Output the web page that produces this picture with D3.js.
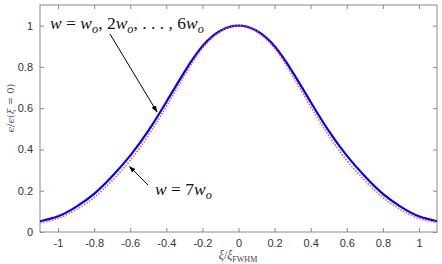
<!DOCTYPE html>
<html><head><meta charset="utf-8">
<script src="https://cdn.jsdelivr.net/npm/d3@7"></script>
<style>
html,body{margin:0;padding:0;background:#fff;}
svg{display:block;}
</style></head>
<body>
<script>
const xs = [-1.1,-1.0,-0.9,-0.8,-0.7,-0.6,-0.5,-0.4,-0.3,-0.2,-0.1,0,0.1,0.2,0.3,0.4,0.5,0.6,0.7,0.8,0.9,1.0,1.1];
const blueVals = [0.052,0.076,0.122,0.185,0.27,0.37,0.49,0.63,0.775,0.90,0.975,1.0,0.975,0.90,0.775,0.63,0.49,0.37,0.27,0.185,0.122,0.076,0.052];
const redVals  = [0.045,0.066,0.108,0.168,0.250,0.347,0.468,0.608,0.757,0.890,0.971,1.0,0.971,0.890,0.757,0.608,0.468,0.347,0.250,0.168,0.108,0.066,0.045];
const xTicks = [-1,-0.8,-0.6,-0.4,-0.2,0,0.2,0.4,0.6,0.8,1];
const xTickLabels = ["-1","-0.8","-0.6","-0.4","-0.2","0","0.2","0.4","0.6","0.8","1"];
const yTicks = [0,0.2,0.4,0.6,0.8,1];
const yTickLabels = ["0","0.2","0.4","0.6","0.8","1"];

const W=442,H=264;
const L=40,R=437,T=5,B=232;
const svg=d3.select("body").append("svg").attr("width",W).attr("height",H);
const x=d3.scaleLinear().domain([-1.1,1.1]).range([L,R]);
const y=d3.scaleLinear().domain([0,1.1]).range([B,T]);
const axCol="#8a8a8a", txtCol="#333";

function styleAxis(g,labels){
  g.select(".domain").remove();
  g.selectAll(".tick line").attr("stroke",axCol);
  g.selectAll(".tick text").attr("fill",txtCol).style("font-family","'Liberation Sans',Arial,sans-serif").style("font-size","11px");
  if(!labels) g.selectAll(".tick text").remove();
}
const fx=(d)=>xTickLabels[xTicks.indexOf(d)];
const fy=(d)=>yTickLabels[yTicks.indexOf(d)];
svg.append("g").attr("transform",`translate(0,${B})`).call(d3.axisBottom(x).tickValues(xTicks).tickFormat(fx).tickSizeInner(-4).tickSizeOuter(0).tickPadding(7)).call(g=>styleAxis(g,true));
svg.append("g").attr("transform",`translate(0,${T})`).call(d3.axisTop(x).tickValues(xTicks).tickSizeInner(-4).tickSizeOuter(0)).call(g=>styleAxis(g,false));
svg.append("g").attr("transform",`translate(${L},0)`).call(d3.axisLeft(y).tickValues(yTicks).tickFormat(fy).tickSizeInner(-4).tickSizeOuter(0).tickPadding(7)).call(g=>styleAxis(g,true));
svg.append("g").attr("transform",`translate(${R},0)`).call(d3.axisRight(y).tickValues(yTicks).tickSizeInner(-4).tickSizeOuter(0)).call(g=>styleAxis(g,false));
svg.append("rect").attr("x",L).attr("y",T).attr("width",R-L).attr("height",B-T).attr("fill","none").attr("stroke",axCol).attr("stroke-width",1);

const clip=svg.append("clipPath").attr("id","c").append("rect").attr("x",L).attr("y",T).attr("width",R-L).attr("height",B-T);
const lineB=d3.line().x((d,i)=>x(xs[i])).y(d=>y(d)).curve(d3.curveNatural);
svg.append("path").datum(blueVals).attr("d",lineB).attr("fill","none").attr("stroke","#0000ff").attr("stroke-width",2.2).attr("clip-path","url(#c)");
svg.append("path").datum(redVals).attr("d",lineB).attr("fill","none").attr("stroke","#ff5020").attr("stroke-width",1.6).attr("stroke-dasharray","1.4,1.6").attr("clip-path","url(#c)");

// arrows
const defs=svg.append("defs");
defs.append("marker").attr("id","ah").attr("viewBox","0 0 10 10").attr("refX",9).attr("refY",5).attr("markerWidth",7).attr("markerHeight",7).attr("orient","auto")
 .append("path").attr("d","M0,1.5 L10,5 L0,8.5 Z").attr("fill","#000");
svg.append("line").attr("x1",110).attr("y1",34).attr("x2",157).attr("y2",112).attr("stroke","#000").attr("stroke-width",1).attr("marker-end","url(#ah)");
svg.append("line").attr("x1",148).attr("y1",185).attr("x2",129.5).attr("y2",166.5).attr("stroke","#000").attr("stroke-width",1).attr("marker-end","url(#ah)");

const serif="'Liberation Serif','Times New Roman',serif";
function mathText(xp,yp,parts,size){
  const t=svg.append("text").attr("x",xp).attr("y",yp).style("font-family",serif).style("font-size",size+"px").attr("fill","#111");
  parts.forEach(p=>{
    const s=t.append("tspan").text(p.t);
    if(p.i) s.style("font-style","italic");
    if(p.sub){s.style("font-size",(size*0.7)+"px").attr("dy",size*0.22);}
    if(p.up){s.attr("dy",-size*0.22);}
  });
  return t;
}
mathText(50,29,[{t:"w",i:1},{t:" = "},{t:"w",i:1},{t:"o",i:1,sub:1},{t:", 2",up:1},{t:"w",i:1},{t:"o",i:1,sub:1},{t:",  . . . ,  6",up:1},{t:"w",i:1},{t:"o",i:1,sub:1}],17.5);
mathText(155,195,[{t:"w",i:1},{t:" = 7"},{t:"w",i:1},{t:"o",i:1,sub:1}],17.5);

// axis labels
const xl=svg.append("text").attr("x",238).attr("y",259).attr("text-anchor","middle").style("font-family",serif).style("font-size","12px").attr("fill","#444");
xl.append("tspan").text("ξ").style("font-style","italic");
xl.append("tspan").text("/");
xl.append("tspan").text("ξ").style("font-style","italic");
xl.append("tspan").text("FWHM").style("font-size","8px").attr("dy",3);
const yl=svg.append("text").attr("transform","translate(14,108) rotate(-90)").attr("text-anchor","middle").style("font-family","'DejaVu Serif',serif").style("font-size","10px").attr("fill","#555");
yl.append("tspan").text("ϵ").style("font-style","italic");
yl.append("tspan").text("/");
yl.append("tspan").text("ϵ").style("font-style","italic");
yl.append("tspan").text("(");
yl.append("tspan").text("ξ").style("font-style","italic");
yl.append("tspan").text(" = 0)");
</script>
</body></html>
